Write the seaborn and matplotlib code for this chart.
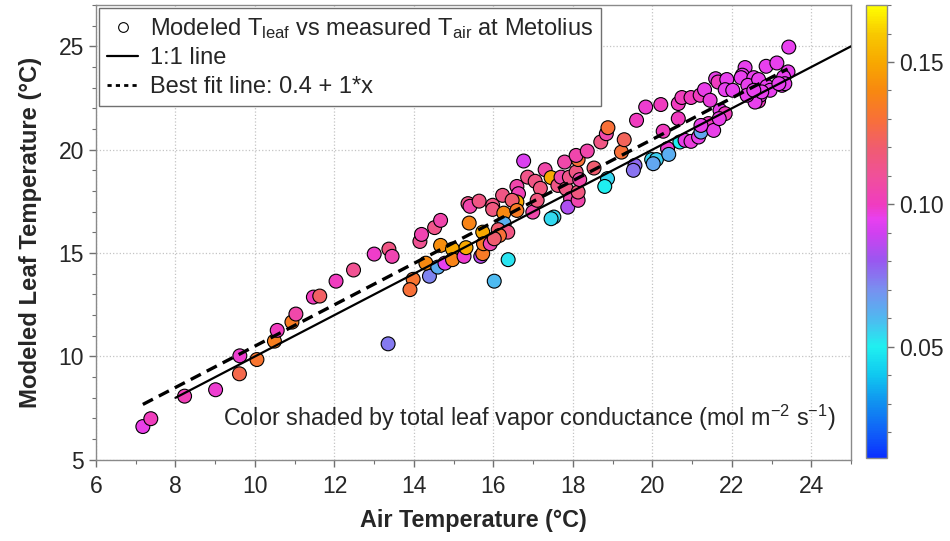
import numpy as np
import pandas as pd
import matplotlib
matplotlib.use("Agg")
import matplotlib.pyplot as plt
import seaborn as sns
from matplotlib.colors import LinearSegmentedColormap, Normalize
from matplotlib.lines import Line2D
from matplotlib.ticker import MultipleLocator
import matplotlib.cm as cm

# ---------------- data ----------------
air_temp = [7.18, 7.38, 8.23, 9.01, 9.62, 9.61, 10.05, 10.49, 10.56, 10.93,
            11.03, 11.47, 11.63, 12.04, 12.48, 13.00, 13.37, 13.45, 13.35, 13.98,
            13.90, 14.15, 14.19, 14.39, 14.30, 14.52, 14.67, 14.60, 14.67, 14.78,
            14.97, 14.97, 15.26, 15.31, 15.36, 15.41, 15.64, 15.39, 15.73, 15.68,
            15.73, 15.75, 15.92, 15.98, 15.98, 16.02, 16.23, 16.26, 16.27, 16.12,
            16.36, 16.15, 16.02, 16.37, 16.59, 16.63, 16.59, 16.47, 16.59, 16.76,
            16.86, 17.05, 17.18, 17.30, 17.45, 17.62, 17.70, 17.79, 17.83, 17.91,
            17.94, 17.87, 18.13, 18.13, 18.08, 18.13, 18.08, 18.17, 18.36, 18.53,
            17.52, 17.45, 16.99, 17.10, 18.70, 18.84, 18.88, 18.87, 18.80, 19.22,
            19.29, 19.60, 19.83, 20.21, 20.27, 20.38, 19.56, 19.52, 19.98, 20.10,
            20.02, 20.41, 20.69, 20.65, 20.65, 20.74, 20.97, 21.20, 21.31, 21.45,
            20.82, 20.97, 21.16, 21.22, 21.41, 21.54, 21.59, 21.65, 21.70, 23.43,
            21.87, 21.83, 22.02, 22.33, 22.26, 22.23, 22.55, 22.40, 22.67, 22.50,
            22.67, 22.71, 22.88, 22.86, 23.13, 22.96, 23.22, 23.41, 23.30, 21.83,
            22.58, 22.75, 23.26, 21.22, 21.68, 22.38, 23.33, 23.18, 22.55]

leaf_temp = [6.61, 6.99, 8.08, 8.39, 10.03, 9.16, 9.85, 10.74, 11.26, 11.66,
             12.05, 12.87, 12.92, 13.64, 14.18, 14.95, 15.19, 14.84, 10.61, 13.73,
             13.23, 15.56, 15.90, 13.88, 14.51, 16.23, 16.58, 14.32, 15.37, 14.51,
             15.19, 14.68, 14.84, 15.26, 17.39, 17.26, 17.51, 16.45, 16.01, 14.84,
             14.97, 15.45, 15.45, 17.31, 17.11, 13.64, 17.79, 16.93, 16.42, 16.13,
             16.01, 15.85, 15.69, 14.68, 18.22, 17.87, 17.47, 17.55, 17.06, 19.45,
             18.67, 18.47, 18.13, 19.03, 18.65, 18.27, 18.67, 19.40, 18.11, 18.67,
             17.63, 17.22, 17.55, 17.95, 18.92, 19.52, 19.72, 18.55, 19.93, 19.11,
             16.74, 16.66, 16.98, 17.55, 20.37, 20.77, 21.06, 18.60, 18.22, 19.88,
             20.48, 21.42, 22.06, 22.18, 20.89, 20.05, 19.24, 19.00, 19.52, 19.52,
             19.32, 19.77, 20.37, 21.50, 22.23, 22.52, 22.52, 22.63, 22.90, 22.39,
             20.45, 20.40, 20.61, 20.85, 21.26, 20.93, 23.43, 23.27, 21.90, 24.96,
             23.39, 22.90, 22.87, 23.97, 23.60, 23.48, 23.48, 23.11, 23.39, 22.71,
             22.35, 22.63, 23.06, 24.03, 24.19, 22.87, 23.27, 23.76, 23.51, 21.74,
             22.30, 22.79, 23.11, 21.17, 21.50, 22.63, 23.19, 23.19, 22.87]

conductance = [0.096, 0.101, 0.102, 0.098, 0.098, 0.126, 0.132, 0.136, 0.100, 0.135,
               0.106, 0.100, 0.122, 0.100, 0.112, 0.099, 0.115, 0.104, 0.074, 0.132,
               0.130, 0.112, 0.104, 0.072, 0.140, 0.114, 0.105, 0.063, 0.142, 0.095,
               0.150, 0.138, 0.098, 0.150, 0.114, 0.105, 0.115, 0.138, 0.150, 0.086,
               0.134, 0.134, 0.104, 0.115, 0.116, 0.060, 0.115, 0.140, 0.062, 0.120,
               0.115, 0.130, 0.120, 0.052, 0.105, 0.102, 0.150, 0.120, 0.135, 0.092,
               0.114, 0.115, 0.116, 0.106, 0.150, 0.115, 0.106, 0.106, 0.115, 0.114,
               0.105, 0.084, 0.105, 0.116, 0.115, 0.130, 0.105, 0.106, 0.105, 0.120,
               0.055, 0.054, 0.106, 0.116, 0.115, 0.106, 0.130, 0.055, 0.050, 0.130,
               0.124, 0.100, 0.098, 0.100, 0.100, 0.098, 0.077, 0.075, 0.055, 0.056,
               0.065, 0.063, 0.050, 0.100, 0.100, 0.101, 0.100, 0.100, 0.096, 0.097,
               0.096, 0.097, 0.096, 0.065, 0.100, 0.096, 0.096, 0.100, 0.096, 0.095,
               0.095, 0.095, 0.095, 0.095, 0.095, 0.095, 0.095, 0.095, 0.095, 0.100,
               0.100, 0.095, 0.095, 0.095, 0.095, 0.095, 0.095, 0.095, 0.095, 0.100,
               0.095, 0.095, 0.095, 0.096, 0.096, 0.095, 0.095, 0.095, 0.095]

one_to_one_x = [8.0, 25.0]
fit_x = [7.18, 23.4]
fit_intercept = 0.5
fit_slope = 1.0

cbar_ticks = [0.05, 0.10, 0.15]
g_min, g_max = 0.011, 0.17

legend_labels = ["Modeled T$_{\\mathrm{leaf}}$ vs measured T$_{\\mathrm{air}}$ at Metolius",
                 "1:1 line",
                 "Best fit line: 0.4 + 1*x"]

# ---------------- styling ----------------
sns.set_theme(style="white")
plt.rcParams["font.family"] = ["Liberation Sans", "DejaVu Sans"]
plt.rcParams["mathtext.fontset"] = "custom"
plt.rcParams["mathtext.rm"] = "Liberation Sans"
plt.rcParams["mathtext.it"] = "Liberation Sans:italic"
plt.rcParams["mathtext.bf"] = "Liberation Sans:bold"

stops = [(0.011, "#0a30ff"), (0.02, "#1060f8"), (0.03, "#1090f0"), (0.04, "#10c8f0"),
         (0.05, "#20f0f0"), (0.06, "#50b8f0"), (0.07, "#7890f0"), (0.08, "#9858f0"),
         (0.09, "#d040f0"), (0.095, "#e840f0"), (0.10, "#f03cc0"), (0.11, "#f0509a"),
         (0.12, "#f05c70"), (0.13, "#f87038"), (0.14, "#f88810"), (0.15, "#f8a800"),
         (0.16, "#f8c800"), (0.17, "#ffff00")]
cmap = LinearSegmentedColormap.from_list(
    "igor", [((v - g_min) / (g_max - g_min), c) for v, c in stops])
norm = Normalize(vmin=g_min, vmax=g_max)

df = pd.DataFrame({"air": air_temp, "leaf": leaf_temp, "g": conductance})

fig = plt.figure(figsize=(9.5, 5.41), dpi=100)
ax = fig.add_axes([0.101, 0.150, 0.795, 0.841])
cax = fig.add_axes([0.9116, 0.1534, 0.0221, 0.8373])

sns.scatterplot(data=df, x="air", y="leaf", hue="g", palette=cmap, hue_norm=norm,
                s=100, edgecolor="black", linewidth=0.8, legend=False, ax=ax, zorder=3)

ox = np.array(one_to_one_x)
sns.lineplot(x=ox, y=ox, color="black", lw=1.6, ax=ax, zorder=4)
fx = np.array(fit_x)
sns.lineplot(x=fx, y=fit_intercept + fit_slope * fx, color="black", lw=2.4,
             linestyle=(0, (3.4, 2.0)), ax=ax, zorder=4)

ax.set_xlim(6, 25)
ax.set_ylim(5, 27)
ax.xaxis.set_major_locator(MultipleLocator(2))
ax.xaxis.set_minor_locator(MultipleLocator(1))
ax.yaxis.set_major_locator(MultipleLocator(5))
ax.yaxis.set_minor_locator(MultipleLocator(1))
ax.grid(True, which="major", ls=":", color="#c4c4c4", lw=0.9)
ax.set_axisbelow(True)
for sp in ax.spines.values():
    sp.set_color("#8a8a8a")
    sp.set_linewidth(1.0)
ax.tick_params(which="major", direction="out", length=5, width=1, color="#707070",
               labelsize=16.5, left=True, bottom=True)
ax.tick_params(axis="x", which="major", pad=6)
ax.tick_params(which="minor", direction="out", length=3, width=0.8, color="#707070",
               left=True, bottom=True)
ax.set_xlabel("Air Temperature (°C)", fontsize=16.8, fontweight="bold", labelpad=8)
ax.set_ylabel("Modeled Leaf Temperature (°C)", fontsize=17.2, fontweight="bold", labelpad=12)

ax.text(0.98, 0.092,
        "Color shaded by total leaf vapor conductance (mol m$^{-2}$ s$^{-1}$)",
        transform=ax.transAxes, ha="right", va="center", fontsize=16.8)

handles = [Line2D([], [], marker="o", ls="none", mfc="white", mec="black", ms=7, mew=0.8),
           Line2D([], [], color="black", lw=1.6),
           Line2D([], [], color="black", lw=2.0, linestyle=(0, (1.5, 1.5)))]
leg = ax.legend(handles, legend_labels, loc="upper left", bbox_to_anchor=(0.004, 0.994),
                frameon=True, fancybox=False, fontsize=17, handlelength=1.3,
                handletextpad=0.5, borderpad=0.35, labelspacing=0.28, borderaxespad=0)
leg.get_frame().set_edgecolor("#707070")
leg.get_frame().set_linewidth(1.0)
leg.get_frame().set_alpha(1)

sm = cm.ScalarMappable(norm=norm, cmap=cmap)
cb = fig.colorbar(sm, cax=cax)
cb.set_ticks(cbar_ticks)
cb.set_ticklabels([f"{t:.2f}" for t in cbar_ticks])
cb.ax.yaxis.set_minor_locator(MultipleLocator(0.01))
cb.ax.tick_params(which="major", direction="out", length=5, width=1, color="#707070",
                  labelsize=16.5, right=True)
cb.ax.tick_params(which="minor", direction="out", length=3, width=0.8, color="#707070",
                  right=True)
cb.outline.set_edgecolor("#8a8a8a")
cb.outline.set_linewidth(1.0)

fig.savefig("out.png", dpi=100)
